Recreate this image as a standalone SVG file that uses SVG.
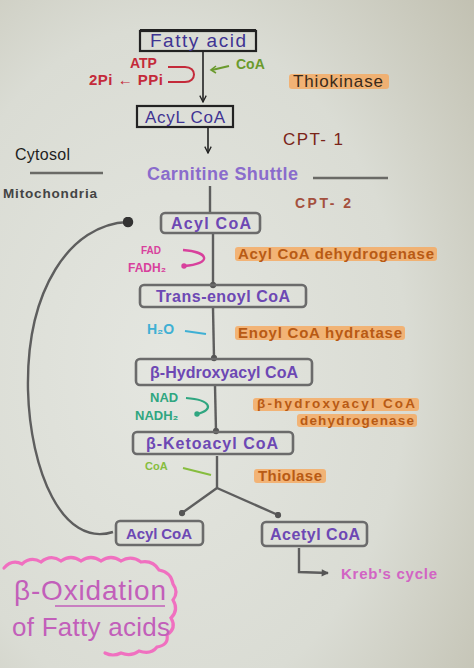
<svg xmlns="http://www.w3.org/2000/svg" width="474" height="668" viewBox="0 0 474 668">
<defs>
<radialGradient id="paper" cx="0.35" cy="0.55" r="0.85">
<stop offset="0" stop-color="#e4e6e0"/>
<stop offset="0.6" stop-color="#dadcd4"/>
<stop offset="1" stop-color="#c2c1b2"/>
</radialGradient>
<marker id="vArrow" viewBox="0 0 10 10" refX="9" refY="5" markerWidth="8" markerHeight="8" orient="auto" markerUnits="userSpaceOnUse">
<path d="M1,1 L9,5 L1,9" fill="none" stroke="#222" stroke-width="1.6"/>
</marker>
<marker id="dot" viewBox="0 0 10 10" refX="5" refY="5" markerWidth="7" markerHeight="7" markerUnits="userSpaceOnUse">
<circle cx="5" cy="5" r="4.5" fill="#555"/>
</marker>
<marker id="bigDot" viewBox="0 0 10 10" refX="5" refY="5" markerWidth="11" markerHeight="11" markerUnits="userSpaceOnUse">
<circle cx="5" cy="5" r="4.8" fill="#333"/>
</marker>
<marker id="grayArrow" viewBox="0 0 10 10" refX="8" refY="5" markerWidth="9" markerHeight="9" orient="auto" markerUnits="userSpaceOnUse">
<path d="M1,1 L9,5 L1,9 Z" fill="#555"/>
</marker>
<marker id="pinkDot" viewBox="0 0 10 10" refX="5" refY="5" markerWidth="6" markerHeight="6" markerUnits="userSpaceOnUse">
<circle cx="5" cy="5" r="4.5" fill="#d8409c"/>
</marker>
<marker id="tealDot" viewBox="0 0 10 10" refX="5" refY="5" markerWidth="6" markerHeight="6" markerUnits="userSpaceOnUse">
<circle cx="5" cy="5" r="4.5" fill="#2fa680"/>
</marker>
</defs>
<style>
text { font-family: "Liberation Sans", Arial, sans-serif; }
.boxBlack { fill: none; stroke: #222; stroke-width: 2.2; }
.boxGray { fill: none; stroke: #6b6b6b; stroke-width: 2.6; }
.boxText { fill: #3f3493; }
.boxTextL { fill: #6d48b4; font-weight: bold; }
.hl { fill: #f6a75c; opacity: 0.8; }
.enz { fill: #b85a14; font-weight: bold; }
.line { fill: none; stroke: #222; stroke-width: 1.6; }
.gline { fill: none; stroke: #5e5e5e; stroke-width: 2.4; }
</style>
<rect x="0" y="0" width="474" height="668" fill="url(#paper)"/>

<g id="connectors">
<line class="line" x1="203" y1="51" x2="203" y2="102" marker-end="url(#vArrow)"/>
<line class="line" x1="208" y1="127" x2="208" y2="153" marker-end="url(#vArrow)"/>
<line class="gline" x1="210" y1="186" x2="210" y2="212"/>
<line class="gline" x1="213" y1="234" x2="213" y2="285" marker-end="url(#dot)"/>
<line class="gline" x1="213" y1="308" x2="214" y2="358" marker-end="url(#dot)"/>
<line class="gline" x1="215" y1="386" x2="216" y2="431" marker-end="url(#dot)"/>
<polyline class="gline" points="217,456 217,488"/>
<line class="gline" x1="217" y1="488" x2="182" y2="513" marker-end="url(#dot)"/>
<line class="gline" x1="217" y1="488" x2="278" y2="515" marker-end="url(#dot)"/>
<path class="gline" d="M113,532 C62,548 30,470 28,390 C26,290 70,224 128,222" marker-end="url(#bigDot)"/>
<polyline class="gline" points="299,548 299,572 328,573" marker-end="url(#grayArrow)"/>
<line x1="30" y1="173" x2="103" y2="173" stroke="#6a6a66" stroke-width="2.6"/>
<line x1="313" y1="178" x2="388" y2="178" stroke="#6a6a66" stroke-width="2.6"/>
</g>

<g id="node-fatty-acid">
<rect class="boxBlack" x="140" y="31" width="116" height="20"/>
<line x1="140" y1="30" x2="256" y2="30" stroke="#222" stroke-width="2"/>
<text class="boxText" x="150" y="47" font-size="19" textLength="96">Fatty acid</text>
</g>

<g id="thiokinase-inputs">
<text x="130" y="68" fill="#c42a3a" font-size="14" font-weight="bold">ATP</text>
<text x="89" y="85" fill="#c42a3a" font-size="15" font-weight="bold" textLength="74">2Pi ← PPi</text>
<path d="M168,67 L185,67 C197,67 197,82 185,82 L168,82" fill="none" stroke="#c42a3a" stroke-width="2"/>
<text x="236" y="69" fill="#6a9a2c" font-size="14" font-weight="bold">CoA</text>
<path d="M229,66 L212,70" fill="none" stroke="#6a9a2c" stroke-width="2"/>
<path d="M216,66 L211,70 L216,73" fill="none" stroke="#6a9a2c" stroke-width="1.6"/>
</g>

<g id="enzyme-thiokinase">
<rect class="hl" x="289" y="74" width="100" height="15" rx="3"/>
<text x="293" y="87" fill="#3a2a1a" font-size="17" textLength="90">Thiokinase</text>
</g>

<g id="node-acyl-coa-1">
<rect class="boxBlack" x="137" y="106" width="96" height="21"/>
<text class="boxText" x="145" y="123" font-size="17" textLength="80">AcyL CoA</text>
</g>

<g id="label-cpt1">
<text x="283" y="145" fill="#7a2418" font-size="17" textLength="60">CPT- 1</text>
</g>

<g id="label-cytosol">
<text x="15" y="160" fill="#1e1e1e" font-size="16" textLength="55">Cytosol</text>
</g>

<g id="label-mitochondria">
<text x="3" y="198" fill="#444" font-size="13.5" font-weight="bold" textLength="94">Mitochondria</text>
</g>

<g id="label-carnitine">
<text x="147" y="180" fill="#8a6ccc" font-size="18" font-weight="bold" textLength="151">Carnitine Shuttle</text>
</g>

<g id="label-cpt2">
<text x="295" y="208" fill="#a4503e" font-size="14" font-weight="bold" textLength="56">CPT- 2</text>
</g>

<g id="node-acyl-coa-2">
<rect class="boxGray" x="161" y="213" width="99" height="20" rx="4"/>
<text class="boxTextL" x="171" y="229" font-size="16" textLength="80">Acyl CoA</text>
</g>

<g id="step1-cofactors">
<text x="141" y="254" fill="#d8409c" font-size="10" font-weight="bold">FAD</text>
<text x="128" y="272" fill="#d8409c" font-size="12" font-weight="bold">FADH₂</text>
<path d="M183,250 C210,252 212,264 184,266" fill="none" stroke="#d8409c" stroke-width="2.4" marker-end="url(#pinkDot)"/>
</g>

<g id="enzyme-acyl-coa-dehydrogenase">
<rect class="hl" x="235" y="247" width="202" height="14" rx="3"/>
<text class="enz" x="238" y="259" font-size="15" textLength="196">Acyl CoA dehydrogenase</text>
</g>

<g id="node-trans-enoyl-coa">
<rect class="boxGray" x="140" y="285" width="166" height="22" rx="4"/>
<text class="boxTextL" x="156" y="302" font-size="16" textLength="134">Trans-enoyl CoA</text>
</g>

<g id="step2-cofactors">
<text x="147" y="334" fill="#3fb0d4" font-size="14" font-weight="bold">H₂O</text>
<path d="M185,331 L206,334" fill="none" stroke="#3fb0d4" stroke-width="2.2"/>
</g>

<g id="enzyme-enoyl-coa-hydratase">
<rect class="hl" x="235" y="326" width="170" height="14" rx="3"/>
<text class="enz" x="238" y="338" font-size="15" textLength="164">Enoyl CoA hydratase</text>
</g>

<g id="node-hydroxyacyl-coa">
<rect class="boxGray" x="136" y="359" width="176" height="26" rx="4"/>
<text class="boxTextL" x="150" y="378" font-size="16" textLength="148">β-Hydroxyacyl CoA</text>
</g>

<g id="step3-cofactors">
<text x="150" y="402" fill="#2fa680" font-size="13" font-weight="bold">NAD</text>
<text x="135" y="420" fill="#2fa680" font-size="13" font-weight="bold">NADH₂</text>
<path d="M186,398 C212,400 214,410 197,414" fill="none" stroke="#2fa680" stroke-width="2.2" marker-end="url(#tealDot)"/>
</g>

<g id="enzyme-hydroxyacyl-dehydrogenase">
<rect class="hl" x="253" y="398" width="166" height="13" rx="3"/>
<rect class="hl" x="297" y="414" width="120" height="13" rx="3"/>
<text class="enz" x="257" y="408" font-size="13.5" textLength="158">β-hydroxyacyl CoA</text>
<text class="enz" x="300" y="425" font-size="13.5" textLength="114">dehydrogenase</text>
</g>

<g id="node-ketoacyl-coa">
<rect class="boxGray" x="133" y="432" width="160" height="22" rx="4"/>
<text class="boxTextL" x="146" y="449" font-size="16" textLength="132">β-Ketoacyl CoA</text>
</g>

<g id="step4-cofactors">
<text x="145" y="470" fill="#86bd3e" font-size="11" font-weight="bold">CoA</text>
<path d="M183,468 L211,475" fill="none" stroke="#86bd3e" stroke-width="2.2"/>
</g>

<g id="enzyme-thiolase">
<rect class="hl" x="254" y="469" width="72" height="14" rx="3"/>
<text class="enz" x="258" y="481" font-size="15" textLength="64">Thiolase</text>
</g>

<g id="node-acyl-coa-3">
<rect class="boxGray" x="116" y="521" width="87" height="24" rx="4"/>
<text class="boxTextL" x="126" y="539" font-size="15" textLength="66">Acyl CoA</text>
</g>

<g id="node-acetyl-coa">
<rect class="boxGray" x="262" y="522" width="105" height="24" rx="4"/>
<text class="boxTextL" x="270" y="540" font-size="16" textLength="90">Acetyl CoA</text>
</g>

<g id="label-krebs">
<text x="341" y="579" fill="#d264c4" font-size="15" font-weight="bold" textLength="96">Kreb's cycle</text>
</g>

<g id="title-cloud">
<path d="M4,568 q8,-9 18,-4 q9,-8 19,-2 q10,-8 20,-1 q10,-7 20,0 q10,-7 20,0 q10,-7 20,0 q10,-6 20,1 q12,-2 18,8 q12,2 14,14 q6,8 0,16 q6,10 -2,18 q6,10 -4,17 q2,10 -10,12 q-6,8 -18,4 q-8,6 -18,2 q-8,4 -16,0" fill="none" stroke="#f070c0" stroke-width="3.2" stroke-linecap="round"/>
<text x="14" y="600" fill="#c25fba" font-size="28" textLength="152">β-Oxidation</text>
<line x1="55" y1="606" x2="165" y2="606" stroke="#c25fba" stroke-width="1.4"/>
<text x="12" y="636" fill="#c25fba" font-size="26" textLength="158">of Fatty acids</text>
</g>
</svg>
